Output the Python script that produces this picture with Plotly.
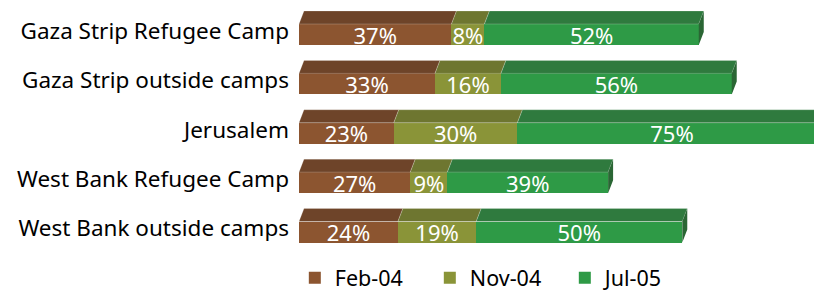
import plotly.graph_objects as go

categories = ["Gaza Strip Refugee Camp", "Gaza Strip outside camps", "Jerusalem",
              "West Bank Refugee Camp", "West Bank outside camps"]
series_names = ["Feb-04", "Nov-04", "Jul-05"]
feb04 = [37, 33, 23, 27, 24]
nov04 = [8, 16, 30, 9, 19]
jul05 = [52, 56, 75, 39, 50]

front_colors = ["#8C5530", "#8A9438", "#2E9A46"]
top_colors = ["#6E4429", "#6E7630", "#2F7A3E"]
side_color = "#2A6634"

values = [feb04, nov04, jul05]
ypos = list(range(len(categories)))

half = 0.213   # half front height (y units)
depth_y = 0.263
depth_x = 1.21

fig = go.Figure()

# top faces and side face
for s, vals in enumerate(values):
    xs, ys = [], []
    for i, y in enumerate(ypos):
        base = sum(values[k][i] for k in range(s))
        x0, x1 = base, base + vals[i]
        yt = y - half
        xs += [x0, x1, x1 + depth_x, x0 + depth_x, x0, None]
        ys += [yt, yt, yt - depth_y, yt - depth_y, yt, None]
    fig.add_trace(go.Scatter(x=xs, y=ys, fill="toself", fillcolor=top_colors[s],
                             mode="lines", line=dict(width=0.6, color="rgba(255,255,255,0.35)"),
                             hoverinfo="skip", showlegend=False))

xs, ys = [], []
for i, y in enumerate(ypos):
    total = sum(values[k][i] for k in range(3))
    yt, yb = y - half, y + half
    xs += [total, total + depth_x, total + depth_x, total, total, None]
    ys += [yt, yt - depth_y, yb - depth_y, yb, yt, None]
fig.add_trace(go.Scatter(x=xs, y=ys, fill="toself", fillcolor=side_color,
                         mode="lines", line=dict(width=0, color=side_color),
                         hoverinfo="skip", showlegend=False))

for s, vals in enumerate(values):
    fig.add_trace(go.Bar(
        y=ypos, x=vals, orientation="h", name=series_names[s],
        marker=dict(color=front_colors[s], line=dict(width=0)),
        width=2 * half,
        text=[f"{v}%" for v in vals], textposition="inside",
        insidetextanchor="middle", textangle=0, constraintext="none",
        textfont=dict(color="white", size=22, family="Noto Sans"),
    ))

fig.update_layout(
    barmode="stack",
    width=814, height=293,
    margin=dict(l=291, r=0, t=0, b=41, autoexpand=False),
    paper_bgcolor="white", plot_bgcolor="white",
    font=dict(family="Noto Sans", size=22.5, color="black"),
    xaxis=dict(range=[0, 126.9], visible=False, fixedrange=True),
    yaxis=dict(range=[4.566, -0.537], tickvals=[y - 0.07 for y in ypos], ticktext=categories,
               showgrid=False, zeroline=False, showline=False, ticks="",
               ticklabelstandoff=9, tickfont=dict(size=22.5), automargin=False),
    legend=dict(orientation="h", x=-0.008, xanchor="left", y=-0.071, yanchor="middle",
                font=dict(size=21.5), traceorder="normal", entrywidth=90,
                itemwidth=30),
    showlegend=True,
)

fig.write_html("out.html")
